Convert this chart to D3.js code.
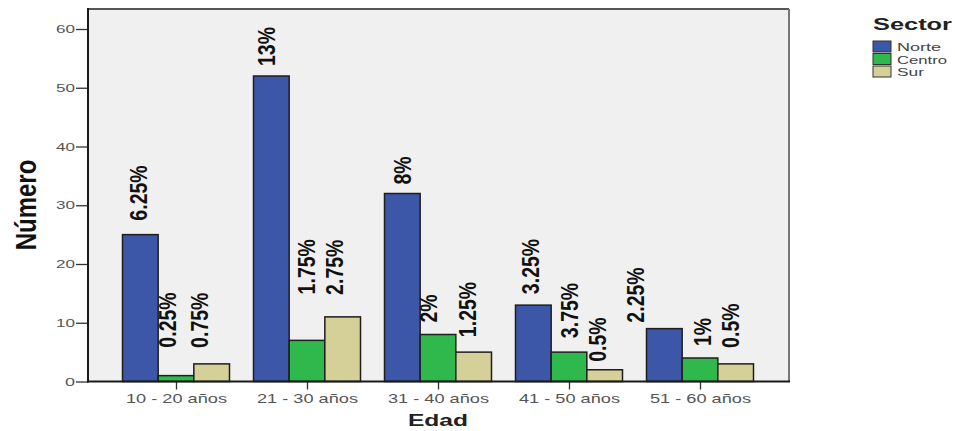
<!DOCTYPE html>
<html><head><meta charset="utf-8">
<script src="https://cdn.jsdelivr.net/npm/d3@7"></script>
<style>body{margin:0;background:#fff}svg{display:block;font-family:"Liberation Sans",Arial,sans-serif}</style>
</head><body><svg id="c" width="955" height="431"></svg>
<script>
const categories = ["10 - 20 años","21 - 30 años","31 - 40 años","41 - 50 años","51 - 60 años"];
const series = ["Norte","Centro","Sur"];
const norte  = [25, 52, 32, 13, 9];
const centro = [1, 7, 8, 5, 4];
const sur    = [3, 11, 5, 2, 3];
const norteLabels  = ["6.25%","13%","8%","3.25%","2.25%"];
const centroLabels = ["0.25%","1.75%","2%","3.75%","1%"];
const surLabels    = ["0.75%","2.75%","1.25%","0.5%","0.5%"];
const yTicks = [0,10,20,30,40,50,60];

const values = [norte, centro, sur];
const labels = [norteLabels, centroLabels, surLabels];
const colors = ["#3c56a8","#2fb84b","#d5cf98"];

// label layout nudges (pixels): horizontal shift from bar centre, gap above bar
const nudge = [
  [[-2,14],[-5,10],[0,9],[-3,11],[-29,6]],
  [[-9,28],[-1,46],[-10,12],[0,14],[2,12]],
  [[-12,16],[-8,22],[-6,15],[-7,8],[-5,16]]
];

const svg = d3.select("#c");
const L = 88, R = 789, T = 9, B = 381.5;
const y = d3.scaleLinear().domain([0,60]).range([B, 29]);
const x = d3.scalePoint().domain(categories).range([176,700]);
const xs = d3.scaleBand().domain(series).range([-53.5,53.5]);

svg.append("rect").attr("x",L).attr("y",T).attr("width",R-L).attr("height",B-T)
  .attr("fill","#f0f0f0").attr("stroke","none");
svg.append("line").attr("x1",L).attr("x2",R).attr("y1",T).attr("y2",T).attr("stroke","#555").attr("stroke-width",2);
svg.append("line").attr("x1",R).attr("x2",R).attr("y1",T).attr("y2",B).attr("stroke","#777").attr("stroke-width",2);

// bars
series.forEach((s,si)=>{
  svg.append("g").selectAll("rect").data(values[si]).join("rect")
    .attr("x",(d,i)=>x(categories[i])+xs(s))
    .attr("y",d=>y(d))
    .attr("width",xs.bandwidth())
    .attr("height",d=>B-y(d))
    .attr("fill",colors[si]).attr("stroke","#1e1e1e").attr("stroke-width",1.5);
});

// y axis
const ya = svg.append("g").attr("transform",`translate(${L},0)`)
  .call(d3.axisLeft(y).tickValues(yTicks).tickSize(12).tickPadding(1));
ya.select(".domain").remove();
ya.selectAll(".tick line").attr("stroke","#333").attr("stroke-width",1.3);
ya.selectAll(".tick text").attr("fill","#555").attr("font-size",11)
  .attr("textLength",d=>d>=10?19:10).attr("lengthAdjust","spacingAndGlyphs");
svg.append("line").attr("x1",L).attr("x2",L).attr("y1",T-1).attr("y2",B+1).attr("stroke","#1a1a1a").attr("stroke-width",2);

// x axis
const xa = svg.append("g").attr("transform",`translate(0,${B})`)
  .call(d3.axisBottom(x).tickSize(8).tickPadding(4));
xa.select(".domain").remove();
xa.selectAll(".tick line").attr("stroke","#333").attr("stroke-width",1.3);
xa.selectAll(".tick text").attr("fill","#555").attr("font-size",13)
  .attr("textLength",101).attr("lengthAdjust","spacingAndGlyphs");
svg.append("line").attr("x1",L-1).attr("x2",R+1).attr("y1",B).attr("y2",B).attr("stroke","#1a1a1a").attr("stroke-width",2);

// value labels
series.forEach((s,si)=>{
  svg.append("g").selectAll("text").data(values[si]).join("text")
    .attr("transform",(d,i)=>{
      const cx = x(categories[i]) + xs(s) + xs.bandwidth()/2 + nudge[si][i][0];
      const cy = y(d) - nudge[si][i][1];
      return `translate(${cx},${cy}) scale(1.25,1) rotate(-90)`;
    })
    .attr("dy","0.36em").attr("text-anchor","start")
    .attr("font-size",19.5).attr("font-weight","bold").attr("fill","#111")
    .text((d,i)=>labels[si][i]);
});

// axis titles
svg.append("text").attr("transform","translate(26,205) scale(1.2,1) rotate(-90)")
  .attr("text-anchor","middle").attr("dy","0.36em")
  .attr("font-size",24).attr("font-weight","bold").attr("fill","#111").text("Número");
svg.append("text").attr("x",438).attr("y",426).attr("text-anchor","middle")
  .attr("font-size",17).attr("font-weight","bold").attr("fill","#222")
  .attr("textLength",60).attr("lengthAdjust","spacingAndGlyphs").text("Edad");

// legend
svg.append("text").attr("x",873).attr("y",30).attr("font-size",16).attr("font-weight","bold")
  .attr("fill","#222").attr("textLength",79).attr("lengthAdjust","spacingAndGlyphs").text("Sector");
const lg = svg.append("g").selectAll("g").data(series).join("g")
  .attr("transform",(d,i)=>`translate(873,${41+i*12.5})`);
lg.append("rect").attr("width",18).attr("height",11).attr("fill",(d,i)=>colors[i])
  .attr("stroke","#333").attr("stroke-width",1);
lg.append("text").attr("x",24).attr("y",10).attr("font-size",11.5).attr("fill","#444")
  .attr("textLength",d=>({Norte:44,Centro:50,Sur:27})[d]).attr("lengthAdjust","spacingAndGlyphs")
  .text(d=>d);
</script></body></html>
